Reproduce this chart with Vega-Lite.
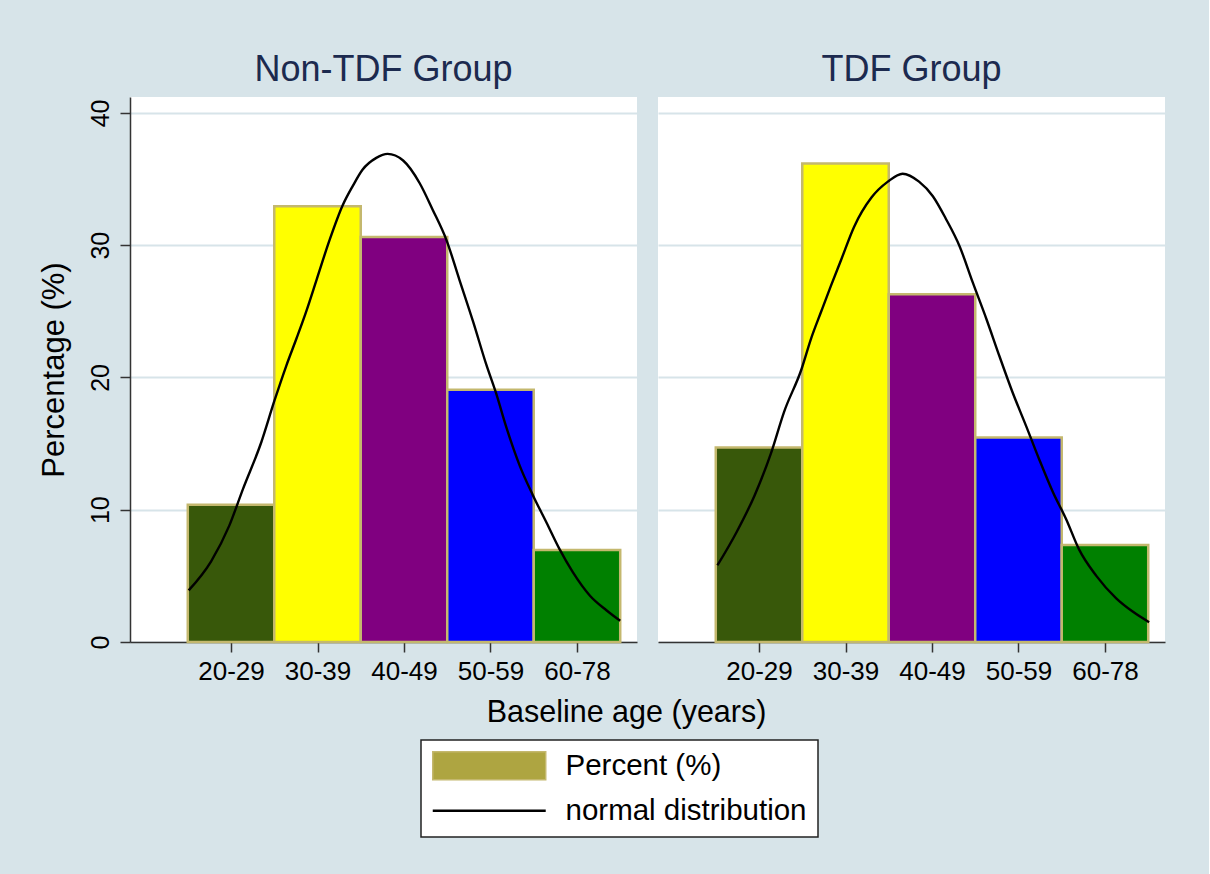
{
  "$schema": "https://vega.github.io/schema/vega-lite/v6.json",
  "background": "#d7e4e9",
  "padding": {"left": 38, "top": 52, "right": 44, "bottom": 36},
  "data": {
    "values": [
      {"group": "Non-TDF Group", "kind": "bar", "age": "20-29", "start": 20, "end": 30, "pct": 10.37},
      {"group": "Non-TDF Group", "kind": "bar", "age": "30-39", "start": 30, "end": 40, "pct": 32.95},
      {"group": "Non-TDF Group", "kind": "bar", "age": "40-49", "start": 40, "end": 50, "pct": 30.61},
      {"group": "Non-TDF Group", "kind": "bar", "age": "50-59", "start": 50, "end": 60, "pct": 19.06},
      {"group": "Non-TDF Group", "kind": "bar", "age": "60-78", "start": 60, "end": 70, "pct": 6.95},
      {"group": "TDF Group", "kind": "bar", "age": "20-29", "start": 20, "end": 30, "pct": 14.7},
      {"group": "TDF Group", "kind": "bar", "age": "30-39", "start": 30, "end": 40, "pct": 36.18},
      {"group": "TDF Group", "kind": "bar", "age": "40-49", "start": 40, "end": 50, "pct": 26.28},
      {"group": "TDF Group", "kind": "bar", "age": "50-59", "start": 50, "end": 60, "pct": 15.46},
      {"group": "TDF Group", "kind": "bar", "age": "60-78", "start": 60, "end": 70, "pct": 7.33},
      {"group": "Non-TDF Group", "kind": "curve", "x": 20.1, "y": 3.9},
      {"group": "Non-TDF Group", "kind": "curve", "x": 22.7, "y": 6.1},
      {"group": "Non-TDF Group", "kind": "curve", "x": 24.8, "y": 8.8},
      {"group": "Non-TDF Group", "kind": "curve", "x": 26.4, "y": 11.6},
      {"group": "Non-TDF Group", "kind": "curve", "x": 28.5, "y": 15.1},
      {"group": "Non-TDF Group", "kind": "curve", "x": 30.0, "y": 18.2},
      {"group": "Non-TDF Group", "kind": "curve", "x": 31.4, "y": 20.9},
      {"group": "Non-TDF Group", "kind": "curve", "x": 32.6, "y": 23.0},
      {"group": "Non-TDF Group", "kind": "curve", "x": 33.7, "y": 25.0},
      {"group": "Non-TDF Group", "kind": "curve", "x": 34.9, "y": 27.4},
      {"group": "Non-TDF Group", "kind": "curve", "x": 36.4, "y": 30.4},
      {"group": "Non-TDF Group", "kind": "curve", "x": 37.9, "y": 33.0},
      {"group": "Non-TDF Group", "kind": "curve", "x": 39.1, "y": 34.5},
      {"group": "Non-TDF Group", "kind": "curve", "x": 40.2, "y": 35.7},
      {"group": "Non-TDF Group", "kind": "curve", "x": 41.8, "y": 36.6},
      {"group": "Non-TDF Group", "kind": "curve", "x": 43.1, "y": 36.9},
      {"group": "Non-TDF Group", "kind": "curve", "x": 44.9, "y": 36.4},
      {"group": "Non-TDF Group", "kind": "curve", "x": 46.8, "y": 34.7},
      {"group": "Non-TDF Group", "kind": "curve", "x": 48.3, "y": 32.7},
      {"group": "Non-TDF Group", "kind": "curve", "x": 49.9, "y": 30.4},
      {"group": "Non-TDF Group", "kind": "curve", "x": 51.4, "y": 27.4},
      {"group": "Non-TDF Group", "kind": "curve", "x": 53.0, "y": 24.2},
      {"group": "Non-TDF Group", "kind": "curve", "x": 54.5, "y": 21.0},
      {"group": "Non-TDF Group", "kind": "curve", "x": 55.7, "y": 18.7},
      {"group": "Non-TDF Group", "kind": "curve", "x": 56.8, "y": 16.3},
      {"group": "Non-TDF Group", "kind": "curve", "x": 58.4, "y": 13.3},
      {"group": "Non-TDF Group", "kind": "curve", "x": 59.9, "y": 11.1},
      {"group": "Non-TDF Group", "kind": "curve", "x": 61.5, "y": 9.0},
      {"group": "Non-TDF Group", "kind": "curve", "x": 63.0, "y": 7.0},
      {"group": "Non-TDF Group", "kind": "curve", "x": 64.5, "y": 5.3},
      {"group": "Non-TDF Group", "kind": "curve", "x": 66.5, "y": 3.5},
      {"group": "Non-TDF Group", "kind": "curve", "x": 68.4, "y": 2.4},
      {"group": "Non-TDF Group", "kind": "curve", "x": 70.0, "y": 1.6},
      {"group": "TDF Group", "kind": "curve", "x": 20.2, "y": 5.8},
      {"group": "TDF Group", "kind": "curve", "x": 22.4, "y": 8.3},
      {"group": "TDF Group", "kind": "curve", "x": 24.5, "y": 11.1},
      {"group": "TDF Group", "kind": "curve", "x": 26.4, "y": 14.3},
      {"group": "TDF Group", "kind": "curve", "x": 27.9, "y": 17.4},
      {"group": "TDF Group", "kind": "curve", "x": 29.9, "y": 20.6},
      {"group": "TDF Group", "kind": "curve", "x": 31.0, "y": 22.9},
      {"group": "TDF Group", "kind": "curve", "x": 32.2, "y": 25.0},
      {"group": "TDF Group", "kind": "curve", "x": 33.3, "y": 26.9},
      {"group": "TDF Group", "kind": "curve", "x": 34.5, "y": 28.9},
      {"group": "TDF Group", "kind": "curve", "x": 36.0, "y": 31.4},
      {"group": "TDF Group", "kind": "curve", "x": 38.0, "y": 33.6},
      {"group": "TDF Group", "kind": "curve", "x": 39.9, "y": 34.8},
      {"group": "TDF Group", "kind": "curve", "x": 41.6, "y": 35.4},
      {"group": "TDF Group", "kind": "curve", "x": 43.5, "y": 34.8},
      {"group": "TDF Group", "kind": "curve", "x": 45.1, "y": 33.7},
      {"group": "TDF Group", "kind": "curve", "x": 46.6, "y": 32.0},
      {"group": "TDF Group", "kind": "curve", "x": 48.2, "y": 29.9},
      {"group": "TDF Group", "kind": "curve", "x": 49.7, "y": 27.2},
      {"group": "TDF Group", "kind": "curve", "x": 51.3, "y": 24.4},
      {"group": "TDF Group", "kind": "curve", "x": 52.8, "y": 21.6},
      {"group": "TDF Group", "kind": "curve", "x": 54.3, "y": 18.9},
      {"group": "TDF Group", "kind": "curve", "x": 55.9, "y": 16.3},
      {"group": "TDF Group", "kind": "curve", "x": 57.4, "y": 13.8},
      {"group": "TDF Group", "kind": "curve", "x": 59.0, "y": 11.3},
      {"group": "TDF Group", "kind": "curve", "x": 60.5, "y": 9.3},
      {"group": "TDF Group", "kind": "curve", "x": 62.0, "y": 7.0},
      {"group": "TDF Group", "kind": "curve", "x": 64.0, "y": 5.0},
      {"group": "TDF Group", "kind": "curve", "x": 66.3, "y": 3.3},
      {"group": "TDF Group", "kind": "curve", "x": 68.2, "y": 2.3},
      {"group": "TDF Group", "kind": "curve", "x": 70.1, "y": 1.5}
    ]
  },
  "spacing": 21,
  "bounds": "flush",
  "resolve": {"scale": {"stroke": "shared", "fill": "shared"}, "legend": {"stroke": "shared"}},
  "hconcat": [
    {
      "width": 507,
      "height": 545,
      "title": {"text": "Non-TDF Group"},
      "transform": [{"filter": "datum.group === 'Non-TDF Group'"}],
      "layer": [
        {
          "transform": [{"filter": "datum.kind === 'bar'"}],
          "mark": {"type": "rect", "strokeWidth": 2.5},
          "encoding": {
            "x": {
              "field": "start", "type": "quantitative",
              "scale": {"domain": [13.32, 71.94], "nice": false, "zero": false},
              "axis": {
                "values": [25, 35, 45, 55, 65],
                "labelExpr": "['20-29','30-39','40-49','50-59','60-78'][round((datum.value-25)/10)]",
                "title": "Baseline age (years)",
                "titleX": 496, "titleY": 79, "titleAlign": "center", "titleBaseline": "alphabetic"
              }
            },
            "x2": {"field": "end"},
            "y": {
              "field": "pct", "type": "quantitative",
              "scale": {"domain": [0, 41.2], "nice": false},
              "axis": {"values": [0, 10, 20, 30, 40], "title": "Percentage (%)"}
            },
            "y2": {"datum": 0},
            "fill": {
              "field": "age", "type": "nominal",
              "scale": {"domain": ["20-29", "30-39", "40-49", "50-59", "60-78"], "range": ["#38580a", "#ffff00", "#800080", "#0000ff", "#008000"]},
              "legend": null
            },
            "stroke": {
              "datum": "Percent (%)", "type": "nominal",
              "scale": {"domain": ["Percent (%)", "normal distribution"], "range": ["#c4b86e", "#000000"]},
              "legend": {
                "orient": "none", "legendX": 291, "legendY": 643, "title": null, "direction": "vertical",
                "symbolSize": 784, "symbolStrokeWidth": 1.5,
                "labelFont": "Liberation Sans", "labelFontSize": 29.5, "labelColor": "black",
                "labelOffset": 104, "labelLimit": 500, "rowPadding": 12, "padding": 11,
                "fillColor": "white", "strokeColor": "#222222",
                "encode": {
                  "symbols": {"update": {
                    "shape": {"signal": "datum.value === 'Percent (%)' ? 'M-1,-1H7.07V1H-1Z' : 'M-1,0H7.07'"},
                    "fill": {"signal": "datum.value === 'Percent (%)' ? '#aea541' : 'transparent'"},
                    "strokeWidth": {"signal": "datum.value === 'Percent (%)' ? 1.5 : 2.4"}
                  }},
                  "legend": {"update": {"strokeWidth": {"value": 1.5}}}
                }
              }
            }
          }
        },
        {
          "transform": [{"filter": "datum.kind === 'curve'"}],
          "mark": {"type": "line", "strokeWidth": 2.4, "interpolate": "monotone"},
          "encoding": {
            "x": {"field": "x", "type": "quantitative", "title": "Baseline age (years)"},
            "y": {"field": "y", "type": "quantitative", "title": "Percentage (%)"},
            "stroke": {
              "datum": "normal distribution", "type": "nominal",
              "legend": {
                "orient": "none", "legendX": 291, "legendY": 643, "title": null, "direction": "vertical",
                "symbolSize": 784, "symbolStrokeWidth": 1.5,
                "labelFont": "Liberation Sans", "labelFontSize": 29.5, "labelColor": "black",
                "labelOffset": 104, "labelLimit": 500, "rowPadding": 12, "padding": 11,
                "fillColor": "white", "strokeColor": "#222222",
                "encode": {
                  "symbols": {"update": {
                    "shape": {"signal": "datum.value === 'Percent (%)' ? 'M-1,-1H7.07V1H-1Z' : 'M-1,0H7.07'"},
                    "fill": {"signal": "datum.value === 'Percent (%)' ? '#aea541' : 'transparent'"},
                    "strokeWidth": {"signal": "datum.value === 'Percent (%)' ? 1.5 : 2.4"}
                  }},
                  "legend": {"update": {"strokeWidth": {"value": 1.5}}}
                }
              }
            }
          }
        }
      ]
    },
    {
      "width": 507,
      "height": 545,
      "title": {"text": "TDF Group"},
      "transform": [{"filter": "datum.group === 'TDF Group'"}],
      "layer": [
        {
          "transform": [{"filter": "datum.kind === 'bar'"}],
          "mark": {"type": "rect", "strokeWidth": 2.5},
          "encoding": {
            "x": {
              "field": "start", "type": "quantitative",
              "scale": {"domain": [13.32, 71.94], "nice": false, "zero": false},
              "axis": {
                "values": [25, 35, 45, 55, 65],
                "labelExpr": "['20-29','30-39','40-49','50-59','60-78'][round((datum.value-25)/10)]",
                "title": null
              }
            },
            "x2": {"field": "end"},
            "y": {
              "field": "pct", "type": "quantitative",
              "scale": {"domain": [0, 41.2], "nice": false},
              "axis": {"values": [0, 10, 20, 30, 40], "title": null, "domain": false, "ticks": false, "labels": false}
            },
            "y2": {"datum": 0},
            "fill": {"field": "age", "type": "nominal", "legend": null},
            "stroke": {"datum": "Percent (%)", "type": "nominal"}
          }
        },
        {
          "transform": [{"filter": "datum.kind === 'curve'"}],
          "mark": {"type": "line", "strokeWidth": 2.4, "interpolate": "monotone"},
          "encoding": {
            "x": {"field": "x", "type": "quantitative", "title": null},
            "y": {"field": "y", "type": "quantitative", "title": null},
            "stroke": {"datum": "normal distribution", "type": "nominal"}
          }
        }
      ]
    }
  ],
  "config": {
    "font": "Liberation Sans",
    "view": {"fill": "white", "stroke": null},
    "title": {"font": "Liberation Sans", "fontSize": 36, "fontWeight": "normal", "color": "#1c2a4f", "anchor": "middle", "baseline": "alphabetic", "offset": 8},
    "axis": {
      "labelFont": "Liberation Sans", "labelColor": "black",
      "titleFont": "Liberation Sans", "titleColor": "black", "titleFontWeight": "normal",
      "domainColor": "#333333", "tickColor": "#333333", "domainWidth": 1.5, "tickWidth": 1.5, "tickSize": 10
    },
    "axisX": {"grid": false, "labelFontSize": 26, "labelPadding": 6, "titleFontSize": 30.5},
    "axisY": {
      "gridColor": "#d7e4e9", "gridWidth": 2, "gridOpacity": 1,
      "labelAngle": 270, "labelAlign": "center", "labelBaseline": "alphabetic",
      "labelFontSize": 25, "labelPadding": 12, "titleFontSize": 31, "titlePadding": 17.5
    }
  }
}
